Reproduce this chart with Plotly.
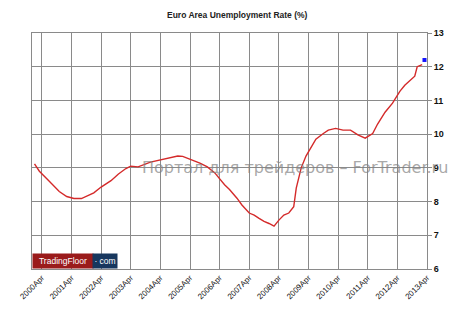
import plotly.graph_objects as go

# Data (month, unemployment %)
dates = ["2000-01", "2000-03", "2000-07", "2000-11", "2001-02", "2001-05", "2001-08",
         "2001-10", "2002-01", "2002-04", "2002-08", "2002-11", "2003-02", "2003-04",
         "2003-07", "2003-12", "2004-04", "2004-07", "2004-11", "2005-01", "2005-05",
         "2005-08", "2005-11", "2006-02", "2006-06", "2006-08", "2006-11", "2007-01",
         "2007-04", "2007-06", "2007-08", "2007-10", "2007-12", "2008-02", "2008-04",
         "2008-06", "2008-08", "2008-10", "2008-11", "2009-01", "2009-03", "2009-05",
         "2009-07", "2009-10", "2009-12", "2010-03", "2010-06", "2010-09", "2010-12",
         "2011-03", "2011-06", "2011-08", "2011-11", "2012-02", "2012-05", "2012-07",
         "2012-09", "2012-11", "2012-12", "2013-02"]
rates = [9.12, 8.90, 8.60, 8.30, 8.15, 8.09, 8.09,
         8.15, 8.26, 8.43, 8.62, 8.82, 8.98, 9.05,
         9.03, 9.17, 9.23, 9.29, 9.35, 9.34, 9.24,
         9.14, 9.03, 8.85, 8.50, 8.36, 8.10, 7.90,
         7.66, 7.60, 7.50, 7.41, 7.35, 7.27, 7.45,
         7.60, 7.66, 7.85, 8.40, 9.00, 9.35, 9.60,
         9.85, 10.02, 10.12, 10.17, 10.12, 10.12, 9.98,
         9.88, 10.02, 10.30, 10.65, 10.92, 11.27, 11.45,
         11.60, 11.72, 12.00, 12.06]
last_date = ["2013-03"]
last_rate = [12.2]

tick_vals = [f"{y}-04-01" for y in range(2000, 2014)]
tick_text = [f"{y}Apr" for y in range(2000, 2014)]
y_ticks = [6, 7, 8, 9, 10, 11, 12, 13]

fig = go.Figure()
fig.add_trace(go.Scatter(x=dates, y=rates, mode="lines",
                         line=dict(color="#d42a2a", width=1.4), showlegend=False))
fig.add_trace(go.Scatter(x=last_date, y=last_rate, mode="markers",
                         marker=dict(color="#1414ff", size=4, symbol="square"),
                         showlegend=False))

fig.update_layout(
    width=456, height=313,
    margin=dict(l=32, r=29, t=33, b=44),
    paper_bgcolor="white", plot_bgcolor="white",
    font=dict(family="Arial, Liberation Sans, sans-serif", color="#000"),
    xaxis=dict(range=["1999-12-01", "2013-04-01"], type="date",
               tickvals=tick_vals, ticktext=tick_text, tickangle=-45,
               tickfont=dict(size=8, color="#111"),
               showgrid=True, gridcolor="#8a8a8a", gridwidth=1,
               showline=True, linecolor="#8a8a8a", mirror=True,
               ticks="", zeroline=False),
    yaxis=dict(range=[6, 13], side="right",
               tickvals=y_ticks, ticktext=[f"<b>{v}</b>" for v in y_ticks],
               tickfont=dict(size=9, color="#111", family="Arial, sans-serif"),
               showgrid=True, gridcolor="#8a8a8a", gridwidth=1,
               showline=True, linecolor="#8a8a8a", mirror=True,
               ticks="outside", ticklen=4, tickcolor="#8a8a8a",
               zeroline=False),
)

# Title
fig.add_annotation(text="<b>Euro Area Unemployment Rate (%)</b>", xref="paper", yref="paper",
                   x=0.519, y=1.0, yshift=25, showarrow=False,
                   font=dict(size=8.5, color="#222", family="Arial, sans-serif"))

# Watermark
fig.add_annotation(text="Портал для трейдеров – ForTrader.ru", xref="paper", yref="paper",
                   x=0.273, xanchor="left", y=0.428, showarrow=False,
                   font=dict(size=16, color="rgba(130,130,130,0.7)", family="DejaVu Sans, sans-serif"))

# Logo
fig.add_annotation(text="TradingFloor", xref="paper", yref="paper", x=0.0, xanchor="left",
                   y=0.0, yanchor="bottom", showarrow=False, bgcolor="#9a1b1b",
                   width=58, height=12, borderpad=1,
                   font=dict(size=8.5, color="white", family="Arial, sans-serif"))
fig.add_annotation(text="· com", xref="paper", yref="paper", x=0.152, xanchor="left",
                   y=0.0, yanchor="bottom", showarrow=False, bgcolor="#17375e",
                   width=22, height=12, borderpad=1,
                   font=dict(size=8.5, color="white", family="Arial, sans-serif"))

fig.write_html("out.html")
